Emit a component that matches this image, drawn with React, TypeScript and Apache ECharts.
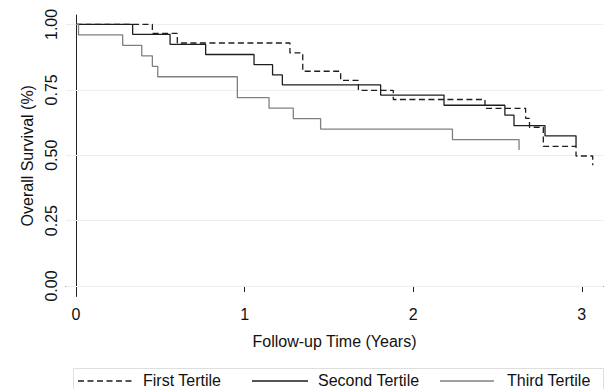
import React, { useEffect, useRef } from "react";
import * as echarts from "echarts";

// Kaplan-Meier step data (time in years, survival proportion after each event)
const firstTimes = [0, 0.453, 0.601, 1.269, 1.345, 1.57, 1.675, 1.882, 2.426, 2.667, 2.69, 2.772, 2.966, 3.065];
const firstSurv = [1, 0.966, 0.929, 0.891, 0.821, 0.786, 0.748, 0.713, 0.679, 0.641, 0.607, 0.534, 0.497, 0.462];
const secondTimes = [0, 0.336, 0.558, 0.769, 1.056, 1.166, 1.224, 1.807, 2.183, 2.544, 2.598, 2.782, 2.966];
const secondSurv = [1, 0.962, 0.924, 0.885, 0.846, 0.807, 0.769, 0.73, 0.691, 0.653, 0.613, 0.574, 0.534];
const thirdTimes = [0, 0.015, 0.277, 0.39, 0.453, 0.485, 0.957, 1.145, 1.289, 1.451, 2.233, 2.628];
const thirdSurv = [1, 0.96, 0.92, 0.88, 0.84, 0.8, 0.72, 0.68, 0.64, 0.6, 0.56, 0.52];

const xTicks = [0, 1, 2, 3];
const yTicks = [0, 0.25, 0.5, 0.75, 1];
const seriesNames = ["First Tertile", "Second Tertile", "Third Tertile"];
const xTitle = "Follow-up Time (Years)";
const yTitle = "Overall Survival (%)";

const FONT = '"Liberation Sans", Arial, sans-serif';
const DARK = "#1e1e1e";
const GRAY = "#808080";

const pairs = (t: number[], v: number[]) => t.map((x, i) => [x, v[i]]);

export default function App() {
  const ref = useRef<HTMLDivElement>(null);
  useEffect(() => {
    if (!ref.current) return;
    const chart = echarts.init(ref.current, undefined, { renderer: "svg" });
    const legendY = 380;
    const legendItems = [
      { x1: 78, x2: 133, tx: 143, color: DARK, dash: [6, 3.5] as number[] | null, name: seriesNames[0] },
      { x1: 252, x2: 308, tx: 318, color: DARK, dash: null, name: seriesNames[1] },
      { x1: 440, x2: 494, tx: 507, color: GRAY, dash: null, name: seriesNames[2] },
    ];
    const graphics: any[] = [
      {
        type: "rect",
        shape: { x: 73.5, y: 368.5, width: 530, height: 40 },
        style: { fill: "#ffffff", stroke: "#dedede", lineWidth: 1 },
        z: 0,
      },
    ];
    legendItems.forEach((it) => {
      graphics.push({
        type: "line",
        shape: { x1: it.x1, y1: legendY + 1, x2: it.x2, y2: legendY + 1 },
        style: { stroke: it.color, lineWidth: 1.3, lineDash: it.dash || undefined },
        z: 1,
      });
      graphics.push({
        type: "text",
        x: it.tx,
        y: legendY,
        style: {
          text: it.name,
          fill: "#111",
          font: `16px ${FONT}`,
          verticalAlign: "middle",
          align: "left",
        },
        z: 1,
      });
    });

    chart.setOption({
      animation: false,
      backgroundColor: "#ffffff",
      textStyle: { fontFamily: FONT },
      grid: { left: 66, right: 12, top: 15, bottom: 92.5, containLabel: false },
      xAxis: {
        type: "value",
        min: -0.0593,
        max: 3.126,
        name: xTitle,
        nameLocation: "middle",
        nameGap: 37,
        nameTextStyle: { fontSize: 16, color: "#111", fontFamily: FONT },
        axisLine: { show: true, lineStyle: { color: "#222", width: 1 } },
        axisTick: { show: true, length: 6, customValues: xTicks, lineStyle: { color: "#222" } },
        axisLabel: {
          customValues: xTicks,
          fontSize: 16,
          color: "#111",
          margin: 10,
          fontFamily: FONT,
        },
        splitLine: { show: false },
      },
      yAxis: {
        type: "value",
        min: -0.04,
        max: 1.036,
        name: yTitle,
        nameLocation: "middle",
        nameRotate: 90,
        nameGap: 29,
        nameTextStyle: { fontSize: 16, color: "#111", fontFamily: FONT },
        axisLine: { show: true, lineStyle: { color: "#222", width: 1 } },
        axisTick: { show: true, length: 4, customValues: yTicks, lineStyle: { color: "#222" } },
        axisLabel: {
          customValues: yTicks,
          rotate: 90,
          fontSize: 16,
          color: "#111",
          margin: 7,
          fontFamily: FONT,
          formatter: (v: number) => v.toFixed(2),
        },
        splitLine: { show: false },
      },
      series: [
        {
          name: seriesNames[0],
          type: "line",
          step: "end",
          symbol: "none",
          data: pairs(firstTimes, firstSurv),
          lineStyle: { color: DARK, width: 1.3, type: [6, 3.5] },
          z: 3,
          markLine: {
            silent: true,
            symbol: "none",
            z: 1,
            label: { show: false },
            lineStyle: { color: "#eeeeee", width: 1, type: "solid" },
            data: yTicks.map((v) => ({ yAxis: v })),
          },
        },
        {
          name: seriesNames[1],
          type: "line",
          step: "end",
          symbol: "none",
          data: pairs(secondTimes, secondSurv),
          lineStyle: { color: DARK, width: 1.3 },
          z: 3,
        },
        {
          name: seriesNames[2],
          type: "line",
          step: "end",
          symbol: "none",
          data: pairs(thirdTimes, thirdSurv),
          lineStyle: { color: GRAY, width: 1.3 },
          z: 3,
        },
      ],
      graphic: graphics,
    });
    return () => chart.dispose();
  }, []);
  return (
    <div
      ref={ref}
      style={{ position: "fixed", left: 0, top: 0, width: 615, height: 389, background: "#fff" }}
    />
  );
}
